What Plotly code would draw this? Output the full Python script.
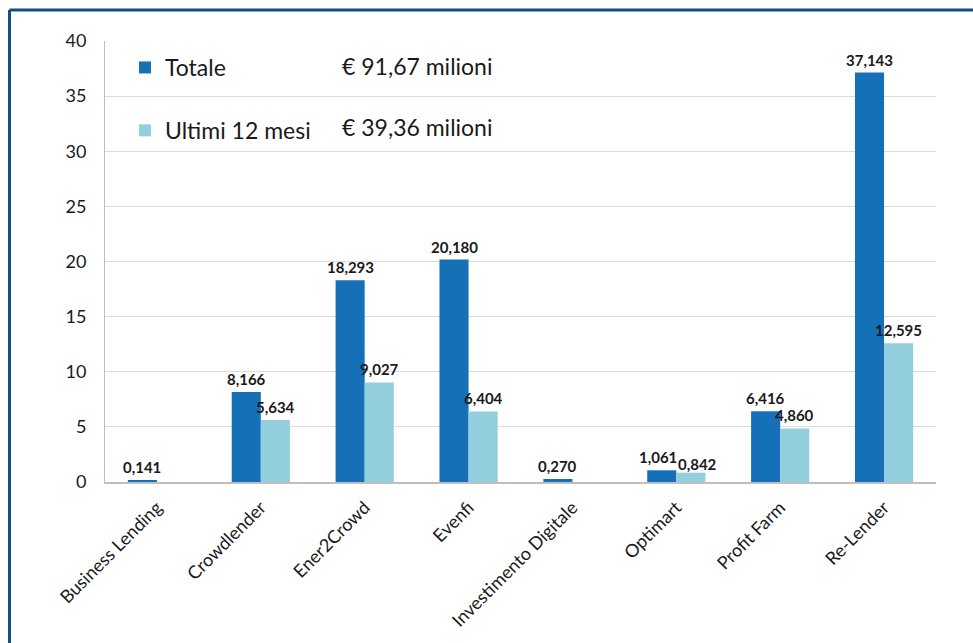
import plotly.graph_objects as go

categories = ["Business Lending", "Crowdlender", "Ener2Crowd", "Evenfi",
              "Investimento Digitale", "Optimart", "Profit Farm", "Re-Lender"]
totale = [0.141, 8.166, 18.293, 20.180, 0.270, 1.061, 6.416, 37.143]
ultimi = [None, 5.634, 9.027, 6.404, None, 0.842, 4.860, 12.595]
series_names = ["Totale", "Ultimi 12 mesi"]
series_amounts = ["€ 91,67 milioni", "€ 39,36 milioni"]
y_ticks = [0, 5, 10, 15, 20, 25, 30, 35, 40]

C_TOT = "#1570B8"
C_ULT = "#93CEDC"
FONT = "Lato, 'Open Sans', sans-serif"

W, H = 973, 643
L, R, T, B = 105, 37, 41, 161
pw, ph = W - L - R, H - T - B

def fmt(v):
    return f"{v:.3f}".replace(".", ",")

fig = go.Figure()
fig.add_trace(go.Bar(x=categories, y=totale, name=series_names[0],
                     marker=dict(color=C_TOT, line=dict(width=0)),
                     legendgroup="a"))
fig.add_trace(go.Bar(x=categories, y=ultimi, name=series_names[1],
                     marker=dict(color=C_ULT, line=dict(width=0)),
                     legendgroup="b"))

annotations = []
LBL = dict(family=FONT, size=15, color="#1a1a1a")
# label nudges to avoid overlap (Optimart pair)
nudge_tot = {"Optimart": -4}
nudge_ult = {"Optimart": 7}
yshift_ult = {"Optimart": -4}
for c, v in zip(categories, totale):
    annotations.append(dict(x=c, y=v, xref="x", yref="y", text=f"<b>{fmt(v)}</b>",
                            showarrow=False, yanchor="bottom", xshift=-14.5 + nudge_tot.get(c, 0),
                            yshift=2, font=LBL))
for c, v in zip(categories, ultimi):
    if v is None:
        continue
    annotations.append(dict(x=c, y=v, xref="x", yref="y", text=f"<b>{fmt(v)}</b>",
                            showarrow=False, yanchor="bottom", xshift=14.5 + nudge_ult.get(c, 0),
                            yshift=2 + yshift_ult.get(c, 0), font=LBL))

for i, amt in enumerate(series_amounts):
    ypx = 66 + 61 * i
    annotations.append(dict(x=(340 - L) / pw, y=(H - B - ypx) / ph, xref="paper", yref="paper",
                            text=amt, showarrow=False, xanchor="left", yanchor="middle",
                            font=dict(family=FONT, size=23, color="#1a1a1a")))

bx = (9.5 - L) / pw
by = (H - B - 10) / ph
shapes = [
    dict(type="line", xref="paper", yref="paper", x0=bx, x1=bx, y0=-0.5, y1=by,
         line=dict(color="#0F4F8C", width=3)),
    dict(type="line", xref="paper", yref="paper", x0=bx, x1=1.2, y0=by, y1=by,
         line=dict(color="#0F4F8C", width=3)),
]

fig.update_layout(
    width=W, height=H,
    margin=dict(l=L, r=R, t=T, b=B),
    paper_bgcolor="white", plot_bgcolor="white",
    barmode="group", bargap=0.44, bargroupgap=0,
    font=dict(family=FONT, color="#1a1a1a"),
    separators=",.",
    showlegend=True,
    legend=dict(x=(125 - L) / pw, y=(H - B - 46) / ph, xanchor="left", yanchor="top",
                font=dict(family=FONT, size=23, color="#1a1a1a"),
                bgcolor="rgba(0,0,0,0)", tracegroupgap=30, traceorder="grouped",
                itemclick=False),
    xaxis=dict(tickangle=-45, tickfont=dict(family=FONT, size=18, color="#1a1a1a"),
               showline=True, linecolor="#BFBFBF", linewidth=2, ticks="",
               showgrid=False, ticklabelstandoff=6),
    yaxis=dict(range=[0, 40], tickvals=y_ticks, tickfont=dict(family=FONT, size=18, color="#1a1a1a"),
               showgrid=True, gridcolor="#DCDCDC", gridwidth=1,
               showline=True, linecolor="#BFBFBF", linewidth=1, ticks="",
               ticklabelstandoff=14, zeroline=False),
    annotations=annotations,
    shapes=shapes,
)

fig.write_html("out.html")
